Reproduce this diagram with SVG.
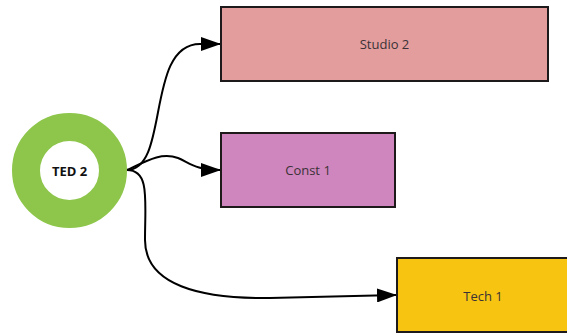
<svg xmlns="http://www.w3.org/2000/svg" width="567" height="335" viewBox="0 0 567 335">
  <style>
    .box { stroke: #1e1a1c; stroke-width: 2; }
    .label { font-family: "Open Sans", "Noto Sans", sans-serif; font-size: 13px; fill: #3a3236; text-anchor: middle; dominant-baseline: central; }
    .hub { font-family: "Open Sans", "Noto Sans", sans-serif; font-size: 13px; font-weight: bold; fill: #111; text-anchor: middle; dominant-baseline: central; }
    .edge { fill: none; stroke: #000; stroke-width: 2; marker-end: url(#arrow); }
  </style>
  <defs>
    <marker id="arrow" markerUnits="userSpaceOnUse" markerWidth="20" markerHeight="14" refX="19" refY="7" orient="auto">
      <path d="M0,0 L20,7 L0,14 Z" fill="#000"/>
    </marker>
  </defs>
  <rect width="567" height="335" fill="#fff"/>

  <g id="connectors">
    <path class="edge" d="M127,170 C170,170 145,44 200,44 L220,44"/>
    <path class="edge" d="M127,170 C148,160 162,152 178,158 C190,163 196,170 220,170"/>
    <path class="edge" d="M127,170 C150,170 145,200 145,240 C145,285 200,299 270,298 L396,295"/>
  </g>

  <g id="ted2">
    <circle cx="69.5" cy="170.5" r="43.5" fill="#fff" stroke="#8dc64b" stroke-width="28"/>
    <text class="hub" x="69.5" y="170.5">TED 2</text>
  </g>

  <g id="studio2">
    <rect class="box" x="221" y="7" width="327" height="74" fill="#e39d9d"/>
    <text class="label" x="384.5" y="44">Studio 2</text>
  </g>

  <g id="const1">
    <rect class="box" x="221" y="133" width="174" height="74" fill="#cf85bd"/>
    <text class="label" x="308" y="170">Const 1</text>
  </g>

  <g id="tech1">
    <rect class="box" x="397" y="258" width="172" height="74" fill="#f7c511"/>
    <text class="label" x="483" y="296">Tech 1</text>
  </g>
</svg>
